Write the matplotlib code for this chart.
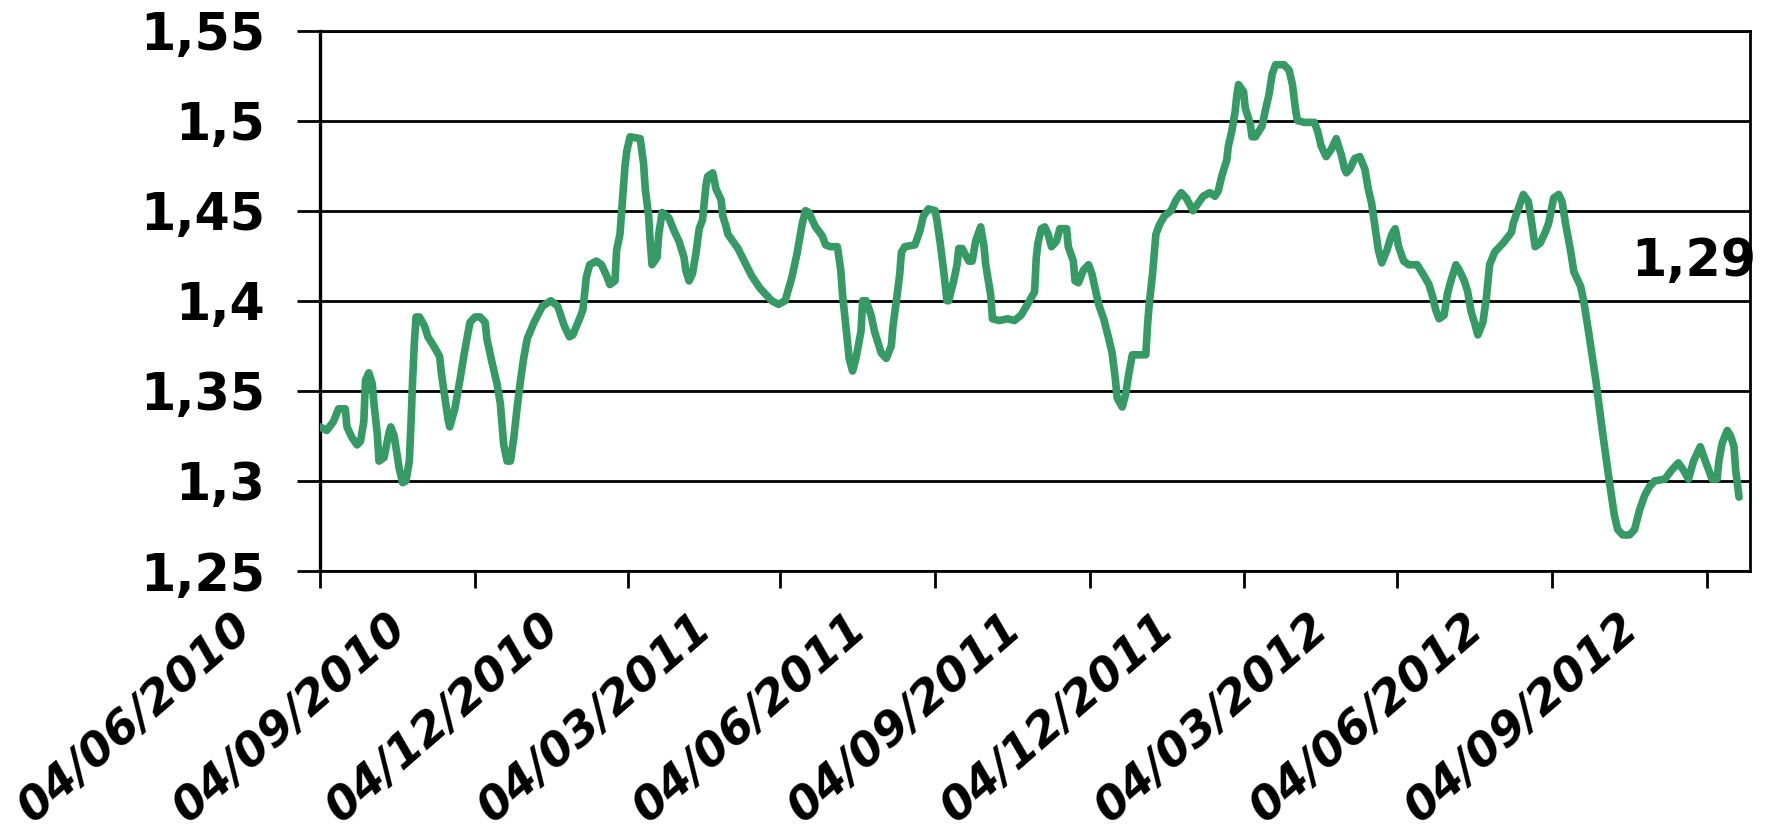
import numpy as np
import pandas as pd
import matplotlib
matplotlib.use("Agg")
import matplotlib.pyplot as plt
import matplotlib.transforms as mtransforms

# days counted from 04/06/2010
start = pd.Timestamp("2010-06-04")
days = [0, 4, 8, 11, 15, 16, 19, 22, 24, 26, 27, 29, 31, 32, 34, 35, 38, 41, 42, 44,
        47, 49, 51, 53, 54, 55, 56, 57, 59, 62, 64, 68, 71, 72, 74, 76, 77, 80, 83, 86,
        89, 92, 95, 98, 99, 102, 105, 107, 109, 111, 113, 115, 117, 119, 121, 123, 127, 132, 137, 141,
        145, 148, 150, 154, 156, 158, 160, 164, 167, 170, 172, 175, 176, 178, 179, 181, 182, 184, 190, 192,
        193, 195, 196, 197, 200, 201, 203, 207, 210, 213, 216, 217, 219, 221, 223, 225, 227, 229, 230, 233,
        235, 238, 239, 241, 242, 248, 256, 261, 264, 268, 272, 276, 280, 283, 286, 288, 290, 294, 298, 300,
        303, 307, 309, 310, 312, 314, 316, 318, 321, 322, 324, 327, 329, 333, 336, 339, 340, 342, 344, 345,
        347, 353, 356, 358, 361, 365, 366, 368, 370, 372, 373, 376, 378, 379, 381, 385, 387, 389, 392, 394,
        395, 398, 399, 403, 408, 412, 416, 421, 424, 425, 426, 428, 430, 432, 434, 437, 439, 443, 444, 447,
        448, 450, 453, 456, 458, 462, 465, 468, 470, 472, 473, 476, 478, 480, 482, 488, 490, 491, 492, 494,
        495, 496, 498, 501, 505, 508, 511, 514, 518, 521, 524, 528, 531, 533, 535, 538, 539, 541, 543, 544,
        545, 548, 549, 552, 553, 555, 559, 561, 563, 565, 567, 572, 575, 577, 579, 580, 584, 590, 592, 594,
        597, 600, 603, 606, 608, 609, 611, 614, 617, 620, 622, 624, 626, 628, 630, 633, 636, 638, 640, 643,
        646, 651, 655, 658, 660, 662, 664, 667, 669, 671, 674, 676, 679, 681, 683, 685, 687, 690, 692, 694,
        697, 702, 707, 708, 711, 714, 717, 719, 721, 724, 727, 729, 732, 735, 737, 739, 742, 744, 748, 750,
        753, 757, 761, 765, 768, 770, 773, 777, 780, 783, 786, 789, 792, 798, 802, 806, 809, 812, 815, 819,
        822, 826, 829, 830, 832, 835, 837, 839, 840, 842]
values = [1.330, 1.328, 1.333, 1.340, 1.340, 1.330, 1.324, 1.320, 1.322, 1.333, 1.356, 1.360, 1.354, 1.343, 1.326, 1.311, 1.313, 1.327, 1.330, 1.325,
          1.307, 1.299, 1.300, 1.311, 1.332, 1.357, 1.377, 1.391, 1.391, 1.386, 1.380, 1.374, 1.369, 1.360, 1.347, 1.334, 1.330, 1.340, 1.356, 1.373,
          1.388, 1.391, 1.391, 1.388, 1.379, 1.366, 1.354, 1.343, 1.320, 1.311, 1.311, 1.324, 1.341, 1.356, 1.369, 1.379, 1.388, 1.397, 1.400, 1.397,
          1.386, 1.380, 1.381, 1.390, 1.395, 1.413, 1.420, 1.422, 1.420, 1.414, 1.409, 1.411, 1.428, 1.437, 1.450, 1.475, 1.483, 1.491, 1.490, 1.476,
          1.462, 1.447, 1.432, 1.420, 1.424, 1.437, 1.449, 1.446, 1.439, 1.433, 1.424, 1.417, 1.411, 1.415, 1.426, 1.440, 1.445, 1.464, 1.469, 1.471,
          1.462, 1.456, 1.447, 1.441, 1.437, 1.429, 1.414, 1.407, 1.404, 1.400, 1.398, 1.400, 1.413, 1.426, 1.442, 1.450, 1.449, 1.441, 1.436, 1.431,
          1.430, 1.430, 1.417, 1.404, 1.386, 1.368, 1.361, 1.368, 1.383, 1.400, 1.400, 1.392, 1.383, 1.371, 1.368, 1.375, 1.386, 1.400, 1.415, 1.427,
          1.430, 1.431, 1.439, 1.447, 1.451, 1.450, 1.445, 1.432, 1.417, 1.400, 1.400, 1.411, 1.420, 1.429, 1.429, 1.422, 1.422, 1.433, 1.441, 1.430,
          1.420, 1.403, 1.390, 1.389, 1.390, 1.389, 1.392, 1.400, 1.405, 1.424, 1.432, 1.440, 1.441, 1.437, 1.430, 1.433, 1.440, 1.440, 1.430, 1.422,
          1.411, 1.410, 1.417, 1.420, 1.415, 1.398, 1.390, 1.379, 1.371, 1.356, 1.346, 1.341, 1.348, 1.360, 1.370, 1.370, 1.370, 1.386, 1.398, 1.415,
          1.426, 1.437, 1.442, 1.447, 1.450, 1.456, 1.460, 1.457, 1.450, 1.454, 1.458, 1.460, 1.458, 1.461, 1.469, 1.478, 1.486, 1.494, 1.505, 1.514,
          1.520, 1.516, 1.507, 1.498, 1.491, 1.491, 1.497, 1.506, 1.514, 1.526, 1.531, 1.531, 1.528, 1.520, 1.505, 1.500, 1.499, 1.499, 1.494, 1.486,
          1.480, 1.484, 1.490, 1.481, 1.473, 1.471, 1.473, 1.479, 1.480, 1.473, 1.462, 1.454, 1.441, 1.428, 1.421, 1.428, 1.437, 1.440, 1.430, 1.422,
          1.420, 1.420, 1.414, 1.409, 1.403, 1.395, 1.390, 1.392, 1.404, 1.411, 1.420, 1.417, 1.411, 1.405, 1.394, 1.388, 1.381, 1.388, 1.401, 1.420,
          1.427, 1.432, 1.438, 1.443, 1.451, 1.459, 1.455, 1.443, 1.430, 1.432, 1.438, 1.443, 1.457, 1.459, 1.455, 1.443, 1.428, 1.416, 1.408, 1.399,
          1.381, 1.356, 1.327, 1.300, 1.281, 1.273, 1.270, 1.270, 1.273, 1.284, 1.292, 1.297, 1.300, 1.301, 1.306, 1.310, 1.306, 1.301, 1.311, 1.319,
          1.311, 1.301, 1.301, 1.311, 1.321, 1.328, 1.325, 1.319, 1.306, 1.291]

tick_dates = ["2010-06-04", "2010-09-04", "2010-12-04", "2011-03-04", "2011-06-04",
              "2011-09-04", "2011-12-04", "2012-03-04", "2012-06-04", "2012-09-04"]
tick_labels = ["04/06/2010", "04/09/2010", "04/12/2010", "04/03/2011", "04/06/2011",
               "04/09/2011", "04/12/2011", "04/03/2012", "04/06/2012", "04/09/2012"]
y_ticks = [1.25, 1.3, 1.35, 1.4, 1.45, 1.5, 1.55]
y_labels = ["1,25", "1,3", "1,35", "1,4", "1,45", "1,5", "1,55"]
last_label = "1,29"

dates = start + pd.to_timedelta(days, unit="D")

plt.rcParams['font.family'] = ['DejaVu Sans']

fig = plt.figure(figsize=(17.72, 8.34), dpi=100)
W, H = 1772, 834
ax = fig.add_axes([320 / W, 1 - 571 / H, (1750 - 320) / W, (571 - 30.5) / H])

ax.plot(dates, values, color="#369a65", lw=5.5, solid_joinstyle="round", solid_capstyle="round", zorder=3)

ax.set_xlim(start, start + pd.Timedelta(days=848.5))
ax.set_ylim(1.25, 1.55)

ax.set_yticks(y_ticks)
ax.set_yticklabels(y_labels, fontsize=36.5, fontweight="bold")
ax.yaxis.grid(True, color="black", lw=2)
ax.set_axisbelow(True)

ax.set_xticks(pd.to_datetime(tick_dates))
ax.set_xticklabels(tick_labels, fontsize=33.5, fontweight="bold", fontstyle="italic",
                   rotation=41, ha="right", va="top")

ax.tick_params(axis="y", length=16.5, width=2, pad=23, direction="out")
ax.tick_params(axis="x", length=12.5, width=2, pad=12, direction="out")

# Excel puts the rotated labels left of their ticks
shift = mtransforms.ScaledTranslation(-60 / 100, 0, fig.dpi_scale_trans)
for lab in ax.get_xticklabels():
    lab.set_transform(lab.get_transform() + shift)

for s in ["left", "right", "bottom", "top"]:
    ax.spines[s].set_color("black")
ax.spines["left"].set_linewidth(2.4)
ax.spines["right"].set_linewidth(2)
ax.spines["bottom"].set_linewidth(2)
ax.spines["top"].set_linewidth(2)

ax.text(start + pd.Timedelta(days=852), 1.414, last_label, fontsize=36.5, fontweight="bold",
        ha="right", va="baseline", clip_on=False, zorder=4)

fig.savefig("out.png", dpi=100)
